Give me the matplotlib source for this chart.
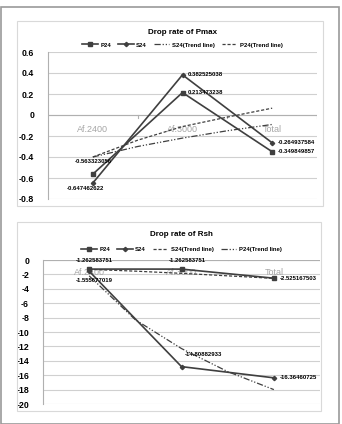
import matplotlib
matplotlib.use("Agg")
import matplotlib.pyplot as plt
from matplotlib.patches import Rectangle

# ============================== data =========================================

categories = ["Af.2400", "Af.3000", "Total"]

pmax_p24 = [-0.563323056, 0.213473238, -0.349849857]
pmax_s24 = [-0.647462622, 0.382525038, -0.264937584]
# trend lines at x = 0, 0.5, 1, 1.5, 2
trend_x = [0, 0.5, 1, 1.5, 2]
pmax_s24_trend = [-0.40, -0.30, -0.22, -0.15, -0.09]
pmax_p24_trend = [-0.40, -0.24, -0.11, -0.02, 0.065]

rsh_p24 = [-1.262583751, -1.262583751, -2.525167503]
rsh_s24 = [-1.555677019, -14.80882933, -16.36460725]
rsh_s24_trend = [-1.3, -1.55, -1.85, -2.2, -2.55]
rsh_p24_trend = [-2.2, -8.3, -12.3, -15.5, -18.0]

# ============================== style ========================================

LINE = "#3f3f3f"
GRID = "#d0d0d0"
CAT = "#a6a6a6"
FONT = "Liberation Sans"
plt.rcParams.update({"font.family": FONT, "axes.unicode_minus": False})

W, H = 342, 424
fig = plt.figure(figsize=(W / 100, H / 100), dpi=100)


def px_rect(x0, y0, x1, y1):
    # pixel box (top-left origin) -> figure fraction
    return [x0 / W, 1 - y1 / H, (x1 - x0) / W, (y1 - y0) / H]


# outer frame and panel boxes
fig.patches.append(Rectangle((1 / W, 0), 338 / W, 1 - 7 / H, transform=fig.transFigure,
                             fill=False, ec="#9a9a9a", lw=1.2))
for box in [(17, 21, 323, 206), (17, 222, 321, 411)]:
    r = px_rect(*box)
    fig.patches.append(Rectangle((r[0], r[1]), r[2], r[3], transform=fig.transFigure,
                                 fill=False, ec="#d9d9d9", lw=0.8))


def draw_panel(ax, p24, s24, t1, t2, t1_style, t2_style, t1_label, t2_label,
               yticks, ylim, title, title_y, legend_y, cat_y, tick_dir, labels):
    x = list(range(len(categories)))
    ax.set_xlim(-0.5, 2.5)
    ax.set_ylim(*ylim)
    ax.set_yticks(yticks)
    ax.set_yticklabels([("%g" % t) for t in yticks], fontsize=6.3, fontweight="bold")
    ax.set_xticks([])
    for s in ["top", "right", "bottom"]:
        ax.spines[s].set_visible(False)
    ax.spines["left"].set_color("#b0b0b0")
    ax.spines["left"].set_linewidth(0.8)
    ax.tick_params(axis="y", length=0, pad=10)
    for t in yticks:
        ax.axhline(t, color=GRID, lw=0.8, zorder=0)
    ax.axhline(0, color="#b0b0b0", lw=0.8, zorder=0)
    span = ylim[1] - ylim[0]
    for b in [0.5, 1.5, 2.5]:
        ax.plot([b, b], [0, tick_dir * span * 0.02], color="#b0b0b0", lw=0.8, zorder=0)

    for i, c in enumerate(categories):
        ax.text(i, cat_y, c, ha="center", va="center", color=CAT, fontsize=6.5, zorder=1)

    ax.plot(x, p24, color=LINE, lw=1.2, marker="s", ms=3.2, label="P24", zorder=3)
    ax.plot(x, s24, color=LINE, lw=1.2, marker="D", ms=2.2, label="S24", zorder=3)
    ax.plot(trend_x, t1, color=LINE, lw=0.9, dashes=t1_style, label=t1_label, zorder=2)
    ax.plot(trend_x, t2, color=LINE, lw=0.9, dashes=t2_style, label=t2_label, zorder=2)

    for (xi, yi, text, dx, dy, ha) in labels:
        ax.annotate(text, (xi, yi), xytext=(dx, dy), textcoords="offset points",
                    ha=ha, va="center", fontsize=4.3, fontweight="bold", zorder=4)

    ax.text(0.5, title_y, title, transform=ax.transAxes, ha="center", va="center",
            fontsize=5.8, fontweight="bold")
    ax.legend(loc="center", bbox_to_anchor=(0.5, legend_y), ncol=4, frameon=False,
              prop={"size": 4.3, "weight": "bold"}, handlelength=2.6, columnspacing=1.2,
              handletextpad=0.4, borderaxespad=0, borderpad=0)


DASH_DOT2 = (5, 1.5, 1, 1.5, 1, 1.5)
DASHED = (2.5, 1.5)

ax1 = fig.add_axes(px_rect(48, 52, 317, 199))
draw_panel(
    ax1, pmax_p24, pmax_s24, pmax_s24_trend, pmax_p24_trend, DASH_DOT2, DASHED,
    "S24(Trend line)", "P24(Trend line)",
    [0.6, 0.4, 0.2, 0, -0.2, -0.4, -0.6, -0.8], (-0.8, 0.6),
    "Drop rate of Pmax", 1 + 20 / 147, 1 + 7 / 147, -0.14, -1,
    [(0, pmax_p24[0], "%.9f" % pmax_p24[0], 0, 9, "center"),
     (0, pmax_s24[0], "%.9f" % pmax_s24[0], -5, -4, "center"),
     (1, pmax_p24[1], "%.9f" % pmax_p24[1], 4, 0, "left"),
     (1, pmax_s24[1], "%.9f" % pmax_s24[1], 4, 0, "left"),
     (2, pmax_s24[2], "%.9f" % pmax_s24[2], 4, 0, "left"),
     (2, pmax_p24[2], "%.9f" % pmax_p24[2], 4, 0, "left")],
)

ax2 = fig.add_axes(px_rect(43, 260, 320, 404))
draw_panel(
    ax2, rsh_p24, rsh_s24, rsh_s24_trend, rsh_p24_trend, DASHED, DASH_DOT2,
    "S24(Trend line)", "P24(Trend line)",
    list(range(0, -21, -2)), (-20, 0),
    "Drop rate of Rsh", 1 + 26 / 144, 1 + 11 / 144, -1.7, 1,
    [(0, rsh_p24[0], "%.9f" % rsh_p24[0], 4, 6, "center"),
     (0, rsh_s24[0], "%.9f" % rsh_s24[0], 4, -7, "center"),
     (1, rsh_p24[1], "%.9f" % rsh_p24[1], 4, 6, "center"),
     (1, rsh_s24[1], "%.8f" % rsh_s24[1], 16, 9, "center"),
     (2, rsh_p24[2], "%.9f" % rsh_p24[2], 4, 0, "left"),
     (2, rsh_s24[2], "%.8f" % rsh_s24[2], 4, 0, "left")],
)

fig.savefig("out.png", dpi=100)
